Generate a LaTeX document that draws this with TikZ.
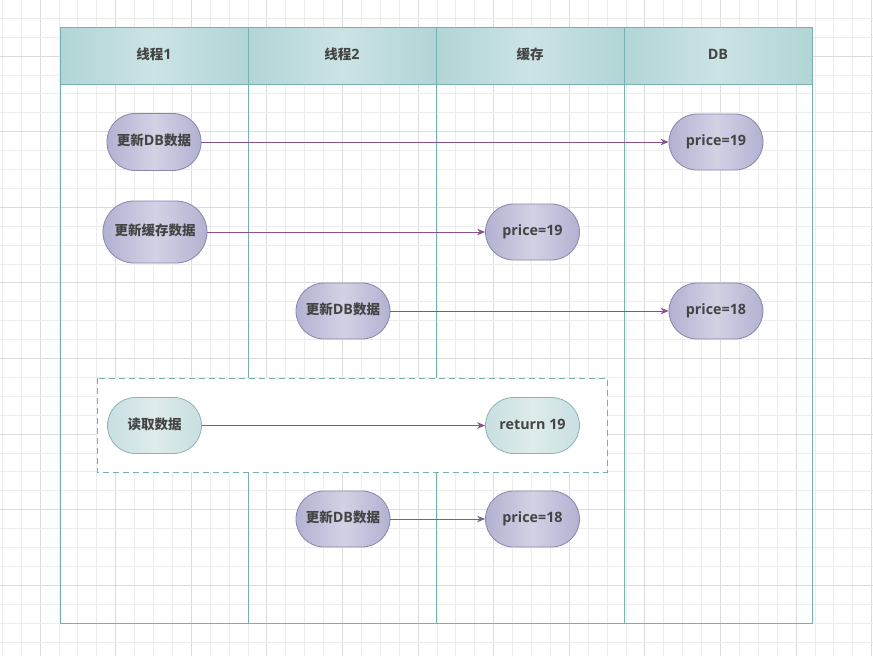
\documentclass[tikz,border=0pt]{standalone}
\usepackage{fontspec}
\setmainfont{Open Sans}[Scale=1.06]
\newfontfamily\zhfont{Noto Sans CJK SC}
\usetikzlibrary{arrows.meta}

\definecolor{gridminor}{HTML}{EDEDED}
\definecolor{gridmajor}{HTML}{DCDCDC}
\definecolor{lane}{HTML}{78B0B1}
\definecolor{headedge}{HTML}{B1D5D6}
\definecolor{headmid}{HTML}{CCE3E4}
\definecolor{pedge}{HTML}{B3B1D1}
\definecolor{pmid}{HTML}{D2D2E5}
\definecolor{pline}{HTML}{8985B0}
\definecolor{tedge}{HTML}{C8DFE1}
\definecolor{tmid}{HTML}{DFEBEC}
\definecolor{tline}{HTML}{85B7B8}
\definecolor{txt}{HTML}{444444}
\definecolor{violet}{HTML}{88508D}
\definecolor{slate}{HTML}{6C6A8C}

\newcommand{\zh}[1]{{\zhfont #1}}

\tikzset{
  label font/.style={font=\fontsize{13.5}{16}\selectfont\bfseries, text=txt,
    text height=10pt, text depth=3pt},
  pill/.style={rectangle, inner sep=0pt, minimum width=94pt, minimum height=56pt,
    rounded corners=28pt, draw=pline, line width=0.8pt,
    left color=pedge, right color=pedge, middle color=pmid, label font},
  softpill/.style={pill, draw=tline, left color=tedge, right color=tedge, middle color=tmid},
  header/.style={rectangle, inner sep=0pt, minimum width=188pt, minimum height=57pt,
    draw=lane, line width=0.9pt, left color=headedge, right color=headedge,
    middle color=headmid, label font},
  flow/.style={-{Stealth[length=8pt,width=6.5pt]}, line width=0.9pt, draw=violet},
  flowgray/.style={flow, draw=slate},
  laneline/.style={draw=lane, line width=0.9pt}
}

\begin{document}
\begin{tikzpicture}[x=1pt,y=-1pt]
  \useasboundingbox (0,0) rectangle (873,656);
  \fill[white] (0,0) rectangle (873,656);

  % background grid, every fourth line a little darker
  \foreach \k in {0,...,46} {
    \pgfmathtruncatemacro{\m}{mod(\k+2,4)}
    \ifnum\m=0
      \draw[gridmajor, line width=0.9pt] ({2.3+18.9*\k},0) -- ({2.3+18.9*\k},656);
    \else
      \draw[gridminor, line width=0.9pt] ({2.3+18.9*\k},0) -- ({2.3+18.9*\k},656);
    \fi
  }
  \foreach \k in {-1,...,34} {
    \pgfmathtruncatemacro{\m}{mod(\k+6,4)}
    \ifnum\m=0
      \draw[gridmajor, line width=0.9pt] (0,{18.3+18.9*\k}) -- (873,{18.3+18.9*\k});
    \else
      \draw[gridminor, line width=0.9pt] (0,{18.3+18.9*\k}) -- (873,{18.3+18.9*\k});
    \fi
  }

  % swimlanes
  \node[header] (h1) at (154,55.5) {\zh{线程}1};
  \node[header] (h2) at (342,55.5) {\zh{线程}2};
  \node[header] (h3) at (530,55.5) {\zh{缓存}};
  \node[header] (h4) at (718,55.5) {DB};
  \draw[laneline] (60,84) rectangle (812,623);
  \draw[laneline] (248,84) -- (248,623);
  \draw[laneline] (436,84) -- (436,623);
  \draw[laneline] (624,84) -- (624,623);

  % read region
  \draw[draw=lane, fill=white, line width=0.9pt, dash pattern=on 6pt off 4pt]
    (97,378) rectangle (607,472);

  % steps
  \node[pill, minimum height=57pt] (t1db) at (154,142) {\zh{更新}DB\zh{数据}};
  \node[pill] (db19) at (716,142) {price=19};
  \node[pill, minimum width=104pt, minimum height=62pt, rounded corners=31pt]
    (t1cache) at (155,232) {\zh{更新缓存数据}};
  \node[pill] (c19) at (532.5,232) {price=19};
  \node[pill] (t2db) at (343,311) {\zh{更新}DB\zh{数据}};
  \node[pill] (db18) at (716,311) {price=18};
  \node[softpill] (read) at (154.5,425.5) {\zh{读取数据}};
  \node[softpill] (ret19) at (532.5,425.5) {return 19};
  \node[pill] (t2db2) at (343,519) {\zh{更新}DB\zh{数据}};
  \node[pill] (c18) at (532.5,519) {price=18};

  % messages
  \draw[flow] (t1db) -- (db19);
  \draw[flow] (t1cache) -- (c19);
  \draw[flow] (t2db) -- (db18);
  \draw[flow] (read) -- (ret19);
  \draw[flowgray] (t2db2) -- (c18);
\end{tikzpicture}
\end{document}
